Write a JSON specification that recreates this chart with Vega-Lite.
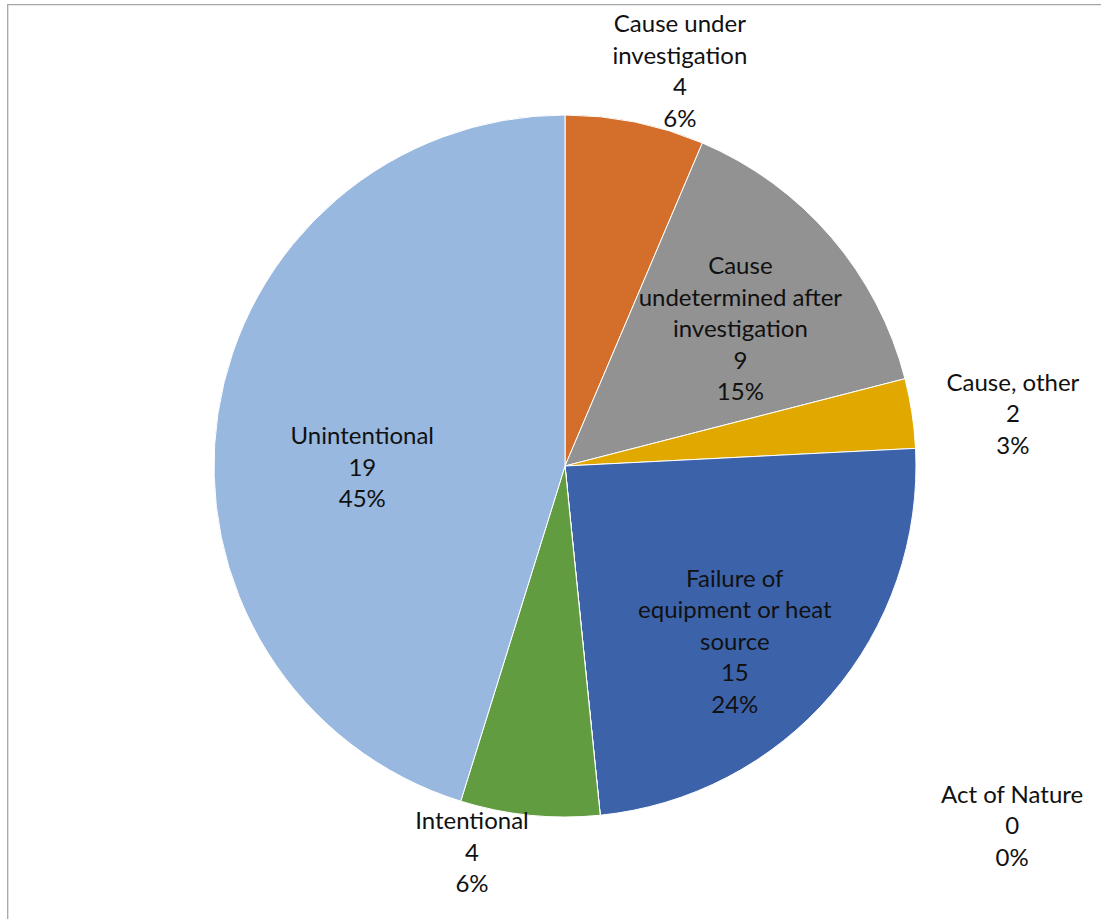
{
  "$schema": "https://vega.github.io/schema/vega-lite/v6.json",
  "width": 1115,
  "height": 923,
  "autosize": {"type": "none"},
  "padding": {"left": 7.5, "top": 4.5, "right": 0, "bottom": 0},
  "background": "white",
  "view": {"stroke": "#A6A6A6", "strokeWidth": 1.3},
  "config": {
    "view": {"stroke": "#A6A6A6", "strokeWidth": 1.3},
    "text": {"font": "Lato", "fontSize": 24, "lineHeight": 31.5, "lineBreak": "\n", "align": "center", "baseline": "middle", "color": "#111111"}
  },
  "data": {
    "values": [
      {"cause": "Cause under\ninvestigation", "count": 4, "pct": 6.4, "rank": 1},
      {"cause": "Cause\nundetermined after\ninvestigation", "count": 9, "pct": 14.6, "rank": 2},
      {"cause": "Cause, other", "count": 2, "pct": 3.2, "rank": 3},
      {"cause": "Failure of\nequipment or heat\nsource", "count": 15, "pct": 24.2, "rank": 4},
      {"cause": "Act of Nature", "count": 0, "pct": 0, "rank": 5},
      {"cause": "Intentional", "count": 4, "pct": 6.4, "rank": 6},
      {"cause": "Unintentional", "count": 19, "pct": 45.2, "rank": 7}
    ]
  },
  "transform": [
    {"stack": "pct", "groupby": [], "sort": [{"field": "rank", "order": "ascending"}], "as": ["p0", "p1"]},
    {"calculate": "(datum.p0 + datum.p1) / 2", "as": "pmid"},
    {"calculate": "datum.cause + '\\n' + datum.count + '\\n' + format(datum.pct / 100, '.0%')", "as": "label"}
  ],
  "layer": [
    {
      "mark": {"type": "arc", "outerRadius": 351, "stroke": "white", "strokeWidth": 1},
      "encoding": {
        "theta": {"field": "p0", "type": "quantitative", "scale": {"domain": [0, 100]}},
        "theta2": {"field": "p1"},
        "color": {
          "field": "rank",
          "type": "nominal",
          "scale": {"domain": [1, 2, 3, 4, 5, 6, 7], "range": ["#D36E2B", "#929292", "#E1A800", "#3C63AA", "#5B9BD5", "#629C40", "#98B8DF"]},
          "legend": null
        }
      }
    },
    {
      "transform": [{"filter": "datum.rank == 1"}],
      "mark": {"type": "text", "radius": 410, "dx": 33, "dy": -39},
      "encoding": {"theta": {"field": "pmid", "type": "quantitative", "scale": {"domain": [0, 100]}}, "text": {"field": "label"}}
    },
    {
      "transform": [{"filter": "datum.rank == 2"}],
      "mark": {"type": "text", "radius": 222, "dx": 7, "dy": -54},
      "encoding": {"theta": {"field": "pmid", "type": "quantitative", "scale": {"domain": [0, 100]}}, "text": {"field": "label"}}
    },
    {
      "transform": [{"filter": "datum.rank == 3"}],
      "mark": {"type": "text", "radius": 451, "dx": 2, "dy": -14.5},
      "encoding": {"theta": {"field": "pmid", "type": "quantitative", "scale": {"domain": [0, 100]}}, "text": {"field": "label"}}
    },
    {
      "transform": [{"filter": "datum.rank == 4"}],
      "mark": {"type": "text", "radius": 245, "dx": -16, "dy": -46},
      "encoding": {"theta": {"field": "pmid", "type": "quantitative", "scale": {"domain": [0, 100]}}, "text": {"field": "label"}}
    },
    {
      "transform": [{"filter": "datum.rank == 5"}],
      "mark": {"type": "text", "radius": 360, "dx": 411, "dy": -28.5},
      "encoding": {"theta": {"field": "pmid", "type": "quantitative", "scale": {"domain": [0, 100]}}, "text": {"field": "label"}}
    },
    {
      "transform": [{"filter": "datum.rank == 6"}],
      "mark": {"type": "text", "radius": 399, "dx": -53, "dy": -40.5},
      "encoding": {"theta": {"field": "pmid", "type": "quantitative", "scale": {"domain": [0, 100]}}, "text": {"field": "label"}}
    },
    {
      "transform": [{"filter": "datum.rank == 7"}],
      "mark": {"type": "text", "radius": 203, "dx": -2, "dy": 1.5},
      "encoding": {"theta": {"field": "pmid", "type": "quantitative", "scale": {"domain": [0, 100]}}, "text": {"field": "label"}}
    }
  ]
}
